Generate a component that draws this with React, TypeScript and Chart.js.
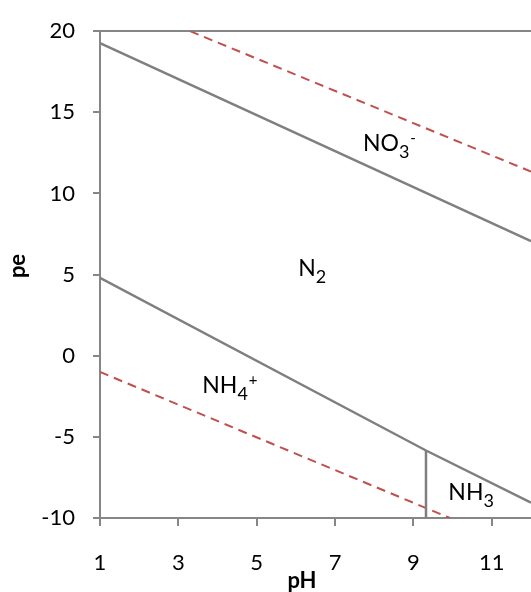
import React, { useEffect, useRef } from "react";
import { Chart, registerables } from "chart.js";

Chart.register(...registerables);

// Boundary lines (pH, pe)
const no3N2X = [1, 12];
const no3N2Y = [19.27, 7.06];
const o2H2OX = [3.3, 12];
const o2H2OY = [20, 11.35];
const n2NhX = [1, 9.32, 12];
const n2NhY = [4.8, -5.84, -9.05];
const nh4Nh3X = [9.32, 9.32];
const nh4Nh3Y = [-5.84, -10];
const h2X = [1, 9.93];
const h2Y = [-1, -10];

const xTicks = [1, 3, 5, 7, 9, 11];
const yTicks = [-10, -5, 0, 5, 10, 15, 20];

const xTitle = "pH";
const yTitle = "pe";

// Region labels
const labelBase = ["NO", "N", "NH", "NH"];
const labelSub = ["3", "2", "4", "3"];
const labelSup = ["-", "", "+", ""];
const labelPH = [7.71, 6.06, 3.61, 9.89];
const labelPE = [12.6, 4.9, -2.28, -8.86];

const FONT = "Lato, 'Open Sans', sans-serif";
const GRAY = "#868686";
const LINE = "#7f7f7f";
const RED = "#c0504d";

const pts = (xs: number[], ys: number[]) => xs.map((x, i) => ({ x, y: ys[i] }));

const regionLabels = {
  id: "regionLabels",
  afterDatasetsDraw(chart: any) {
    const { ctx, scales } = chart;
    ctx.save();
    ctx.fillStyle = "#000";
    ctx.textBaseline = "alphabetic";
    ctx.textAlign = "left";
    for (let i = 0; i < labelBase.length; i++) {
      let x = scales.x.getPixelForValue(labelPH[i]);
      const y = scales.y.getPixelForValue(labelPE[i]);
      ctx.font = `23px ${FONT}`;
      ctx.fillText(labelBase[i], x, y);
      x += ctx.measureText(labelBase[i]).width;
      ctx.font = `18px ${FONT}`;
      ctx.fillText(labelSub[i], x, y + 7);
      x += ctx.measureText(labelSub[i]).width + 1;
      if (labelSup[i]) {
        ctx.font = `15px ${FONT}`;
        ctx.fillText(labelSup[i], x, y - 8);
      }
    }
    // axis titles
    ctx.font = `bold 22px ${FONT}`;
    ctx.textAlign = "center";
    ctx.fillText(xTitle, 302, 588);
    ctx.translate(25, 266);
    ctx.rotate(-Math.PI / 2);
    ctx.fillText(yTitle, 0, 0);
    ctx.restore();
  },
};

export default function App() {
  const ref = useRef<HTMLCanvasElement>(null);
  useEffect(() => {
    if (!ref.current) return;
    const solid = { borderColor: LINE, borderWidth: 2.5, pointRadius: 0, showLine: true, fill: false };
    const dashed = { borderColor: RED, borderWidth: 2, borderDash: [9, 6], pointRadius: 0, showLine: true, fill: false };
    const chart = new Chart(ref.current, {
      type: "scatter",
      data: {
        datasets: [
          { ...solid, data: pts(no3N2X, no3N2Y) },
          { ...dashed, data: pts(o2H2OX, o2H2OY) },
          { ...solid, data: pts(n2NhX, n2NhY) },
          { ...solid, data: pts(nh4Nh3X, nh4Nh3Y) },
          { ...dashed, data: pts(h2X, h2Y) },
        ],
      },
      options: {
        animation: false,
        responsive: false,
        devicePixelRatio: 1,
        layout: { padding: { top: 25, right: 0, left: 0, bottom: 0 } },
        plugins: { legend: { display: false }, tooltip: { enabled: false } },
        scales: {
          x: {
            type: "linear",
            min: 1,
            max: 12,
            afterBuildTicks: (s: any) => { s.ticks = xTicks.map((v) => ({ value: v })); },
            afterFit: (s: any) => { s.height = 74; },
            ticks: { color: "#000", font: { family: FONT, size: 22 }, padding: 24, includeBounds: false },
            grid: { drawOnChartArea: false, color: GRAY, tickColor: GRAY, tickLength: 8, lineWidth: 2 },
            border: { display: true, color: GRAY, width: 2 },
            title: { display: false },
          },
          y: {
            type: "linear",
            min: -10,
            max: 20,
            afterBuildTicks: (s: any) => { s.ticks = yTicks.map((v) => ({ value: v })); },
            afterFit: (s: any) => { s.width = 100; },
            ticks: { color: "#000", font: { family: FONT, size: 22 }, padding: 18 },
            grid: {
              color: (c: any) => (c.tick && c.tick.value === 20 ? GRAY : "rgba(0,0,0,0)"),
              tickColor: GRAY,
              tickLength: 7,
              lineWidth: 2,
            },
            border: { display: true, color: GRAY, width: 2 },
            title: { display: false },
          },
        },
      },
      plugins: [regionLabels],
    } as any);
    return () => chart.destroy();
  }, []);
  return (
    <canvas
      ref={ref}
      width={531}
      height={592}
      style={{ position: "absolute", left: 0, top: 0, width: 531, height: 592, display: "block" }}
    />
  );
}
